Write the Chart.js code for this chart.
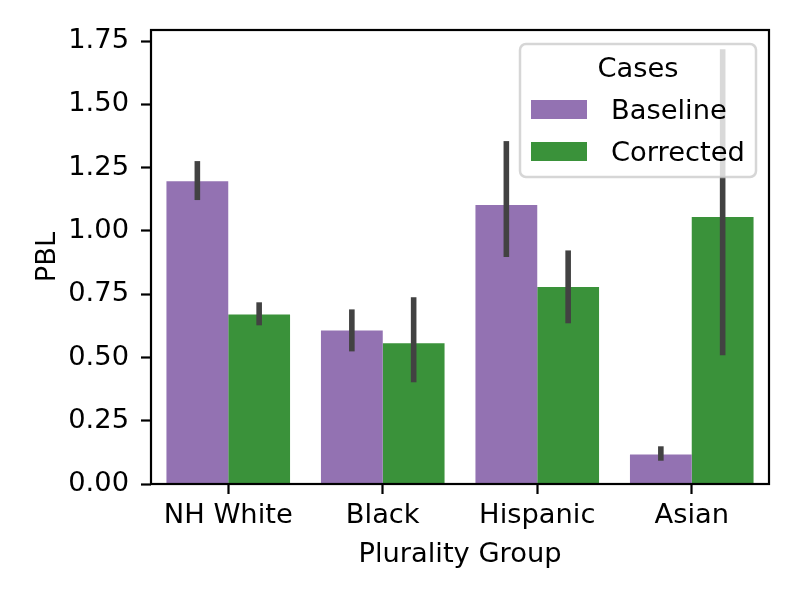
<!DOCTYPE html>
<html>
<head>
<meta charset="utf-8">
<script src="https://cdn.jsdelivr.net/npm/chart.js@4.4.1/dist/chart.umd.min.js"></script>
<style>
html,body{margin:0;padding:0;background:#fff;}
#wrap{width:800px;height:600px;}
</style>
</head>
<body>
<div id="wrap"><canvas id="grafico" width="800" height="600"></canvas></div>
<script>
// valores
const grupos=['NH White','Black','Hispanic','Asian'];
const baseline=[1.196,0.607,1.102,0.117];
const baselineLo=[1.122,0.524,0.897,0.092];
const baselineHi=[1.276,0.690,1.355,0.149];
const corrigido=[0.670,0.556,0.778,1.055];
const corrigidoLo=[0.627,0.402,0.635,0.509];
const corrigidoHi=[0.718,0.738,0.923,1.718];
const yTicks=[0,0.25,0.5,0.75,1.0,1.25,1.5,1.75];
const yMax=1.794;

const FONTE='"DejaVu Sans", sans-serif';
const TAM=27.3;
Chart.defaults.color='#000';
Chart.defaults.font.family=FONTE;
Chart.defaults.font.size=TAM;

const erros=[[baselineLo,baselineHi],[corrigidoLo,corrigidoHi]];

const pluginErros={
  id:'erros',
  afterDatasetsDraw(chart){
    const ctx=chart.ctx,y=chart.scales.y;
    ctx.save();
    ctx.strokeStyle='#424242';
    ctx.lineWidth=5.6;
    ctx.lineCap='butt';
    chart.data.datasets.forEach(function(ds,i){
      const meta=chart.getDatasetMeta(i);
      meta.data.forEach(function(bar,j){
        ctx.beginPath();
        ctx.moveTo(bar.x,y.getPixelForValue(erros[i][0][j]));
        ctx.lineTo(bar.x,y.getPixelForValue(erros[i][1][j]));
        ctx.stroke();
      });
    });
    // moldura completa
    const a=chart.chartArea;
    ctx.strokeStyle='#000';
    ctx.lineWidth=2.2;
    ctx.strokeRect(a.left,a.top,a.right-a.left,a.bottom-a.top);
    ctx.restore();
  }
};

const pluginLegenda={
  id:'legendaInterna',
  afterDraw(chart){
    const ctx=chart.ctx,a=chart.chartArea;
    const w=236,h=133,x=a.right-13-w,yTop=a.top+14;
    ctx.save();
    ctx.beginPath();
    ctx.roundRect(x,yTop,w,h,6);
    ctx.fillStyle='rgba(255,255,255,0.8)';
    ctx.fill();
    ctx.strokeStyle='rgba(204,204,204,0.8)';
    ctx.lineWidth=2.5;
    ctx.stroke();
    ctx.fillStyle='#000';
    ctx.font=TAM+'px '+FONTE;
    ctx.textBaseline='alphabetic';
    ctx.textAlign='center';
    ctx.fillText('Cases',x+w/2,yTop+33);
    ctx.textAlign='left';
    chart.data.datasets.forEach(function(ds,i){
      const py=yTop+56+i*42;
      ctx.fillStyle=ds.backgroundColor;
      ctx.fillRect(x+11,py,56,19);
      ctx.fillStyle='#000';
      ctx.fillText(ds.label,x+91,py+19);
    });
    ctx.restore();
  }
};

new Chart(document.getElementById('grafico'),{
  type:'bar',
  data:{
    labels:grupos,
    datasets:[
      {label:'Baseline',data:baseline,backgroundColor:'#9372b2',categoryPercentage:0.8,barPercentage:1.0},
      {label:'Corrected',data:corrigido,backgroundColor:'#3a923a',categoryPercentage:0.8,barPercentage:1.0}
    ]
  },
  options:{
    responsive:false,animation:false,devicePixelRatio:1,
    layout:{padding:{left:0,right:31,top:30,bottom:0}},
    plugins:{legend:{display:false},tooltip:{enabled:false}},
    scales:{
      x:{
        grid:{offset:false,drawOnChartArea:false,drawTicks:true,tickLength:10,tickWidth:2.2,tickColor:'#000'},
        border:{display:false},
        ticks:{padding:6,color:'#000',maxRotation:0},
        title:{display:true,text:'Plurality Group',padding:{top:4,bottom:29}},
        afterFit(s){s.height=116;}
      },
      y:{
        min:0,max:yMax,
        grid:{drawOnChartArea:false,drawTicks:true,tickLength:10,tickWidth:2.2,tickColor:'#000'},
        border:{display:false},
        ticks:{padding:12,color:'#000',callback:function(v){return v.toFixed(2);}},
        afterBuildTicks(s){s.ticks=yTicks.map(function(v){return {value:v};});},
        title:{display:true,text:'PBL',padding:{top:32,bottom:0}},
        afterFit(s){s.width=151;}
      }
    }
  },
  plugins:[pluginErros,pluginLegenda]
});
</script>
</body>
</html>
